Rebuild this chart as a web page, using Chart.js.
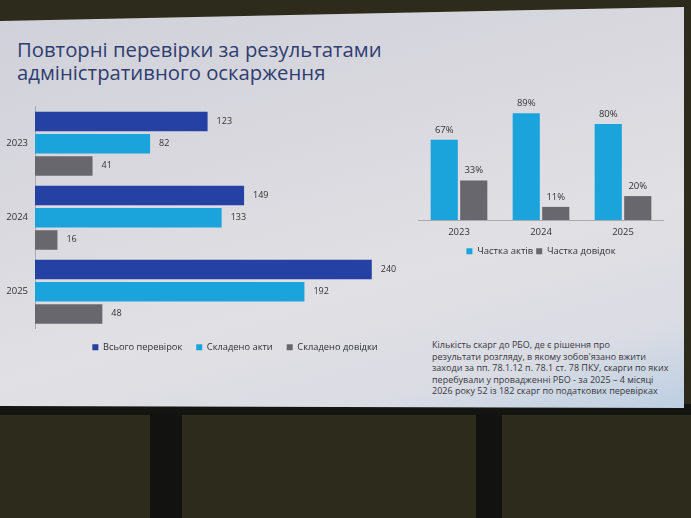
<!DOCTYPE html>
<html lang="uk">
<head>
<meta charset="utf-8">
<script src="https://cdn.jsdelivr.net/npm/chart.js@4.4.1/dist/chart.umd.min.js"></script>
<style>
  html, body { margin: 0; padding: 0; }
  body { width: 691px; height: 518px; background: #2d2b1c; position: relative; overflow: hidden; font-family: "Open Sans", sans-serif; }
  .bezel { position: absolute; left: 0; top: 404px; width: 691px; height: 11px; background: #141410; }
  .leg { position: absolute; top: 414px; height: 104px; background: #121210; }
  .slide {
    position: absolute; left: 0; top: 0; width: 684px; height: 410px;
    clip-path: polygon(0 21px, 684px 7px, 684px 408px, 0 406px);
    background: linear-gradient(165deg, #cfd0d9 0%, #d9d8df 35%, #e1e0e4 65%, #dadce4 85%, #bccfe2 100%);
  }
  .title { position: absolute; left: 17px; top: 38px; font-size: 20.3px; line-height: 23px; color: #2f3d70; }
  .note { position: absolute; left: 432px; top: 339px; font-size: 9px; line-height: 11.5px; color: #38383e; white-space: nowrap; }
  canvas { position: absolute; }
  #barsLeft { left: 0; top: 94px; }
  #barsRight { left: 418px; top: 90px; }
</style>
</head>
<body>
<div class="bezel"></div>
<div class="leg" style="left:150px;width:32px"></div>
<div class="leg" style="left:476px;width:26px"></div>
<div class="slide">
  <div class="title">Повторні перевірки за результатами<br>адміністративного оскарження</div>
  <div class="note">Кількість скарг до РБО, де є рішення про<br>результати розгляду, в якому зобов'язано вжити<br>заходи за пп. 78.1.12 п. 78.1 ст. 78 ПКУ, скарги по яких<br>перебували у провадженні РБО - за 2025 – 4 місяці<br>2026 року 52 із 182 скарг по податкових перевірках</div>
</div>
<canvas id="barsLeft" width="470" height="268"></canvas>
<canvas id="barsRight" width="246" height="176"></canvas>

<script>
// --- дані ---
const years = ['2023', '2024', '2025'];
const totalChecks = [123, 149, 240];
const actsDone = [82, 133, 192];
const notesDone = [41, 16, 48];
const shareActs = [67, 89, 80];
const shareNotes = [33, 11, 20];

const DARK_BLUE = '#2541a3';
const CYAN = '#1ba3dc';
const GREY = '#68676d';
const FONT = '"Open Sans", sans-serif';

// підписи значень біля стовпчиків
const valueLabels = {
  id: 'valueLabels',
  afterDatasetsDraw(chart, args, opts) {
    const ctx = chart.ctx;
    ctx.save();
    ctx.font = opts.size + 'px ' + FONT;
    ctx.fillStyle = '#333';
    chart.data.datasets.forEach((ds, i) => {
      chart.getDatasetMeta(i).data.forEach((bar, j) => {
        if (opts.horizontal) {
          ctx.textAlign = 'left'; ctx.textBaseline = 'middle';
          ctx.fillText(ds.data[j], bar.x + 9, bar.y);
        } else {
          ctx.textAlign = 'center'; ctx.textBaseline = 'bottom';
          ctx.fillText(ds.data[j] + opts.suffix, bar.x, bar.y - 5);
        }
      });
    });
    ctx.restore();
  }
};

new Chart(document.getElementById('barsLeft').getContext('2d'), {
  type: 'bar',
  data: {
    labels: years,
    datasets: [
      { label: 'Всього перевірок', data: totalChecks, backgroundColor: DARK_BLUE },
      { label: 'Складено акти', data: actsDone, backgroundColor: CYAN },
      { label: 'Складено довідки', data: notesDone, backgroundColor: GREY }
    ]
  },
  options: {
    indexAxis: 'y',
    responsive: false,
    animation: false,
    categoryPercentage: 0.9,
    barPercentage: 0.88,
    layout: { padding: { top: 6, right: 0, left: 0, bottom: 0 } },
    scales: {
      x: { display: false, min: 0, max: 310 },
      y: {
        afterFit: s => { s.width = 35; },
        grid: { display: false, drawTicks: false },
        border: { display: true, color: '#a9a9b2', width: 1 },
        ticks: { color: '#333', font: { size: 9.5, family: FONT }, padding: 7 }
      }
    },
    plugins: {
      legend: {
        position: 'bottom',
        labels: { boxWidth: 6, boxHeight: 6, padding: 14, color: '#2f2f35', font: { size: 9.3, family: FONT } }
      },
      tooltip: { enabled: false },
      valueLabels: { horizontal: true, size: 9 }
    }
  },
  plugins: [valueLabels]
});

new Chart(document.getElementById('barsRight').getContext('2d'), {
  type: 'bar',
  data: {
    labels: years,
    datasets: [
      { label: 'Частка актів', data: shareActs, backgroundColor: CYAN },
      { label: 'Частка довідок', data: shareNotes, backgroundColor: GREY }
    ]
  },
  options: {
    responsive: false,
    animation: false,
    categoryPercentage: 0.72,
    barPercentage: 0.92,
    layout: { padding: { top: 10 } },
    scales: {
      y: { display: false, min: 0, max: 100 },
      x: {
        grid: { display: false, drawTicks: false },
        border: { display: true, color: '#a9a9b2', width: 1 },
        ticks: { color: '#333', font: { size: 9.5, family: FONT }, padding: 6 }
      }
    },
    plugins: {
      legend: {
        position: 'bottom',
        labels: { boxWidth: 6, boxHeight: 6, padding: 3, color: '#2f2f35', font: { size: 9.5, family: FONT } }
      },
      tooltip: { enabled: false },
      valueLabels: { horizontal: false, suffix: '%', size: 9.5 }
    }
  },
  plugins: [valueLabels]
});
</script>
</body>
</html>
